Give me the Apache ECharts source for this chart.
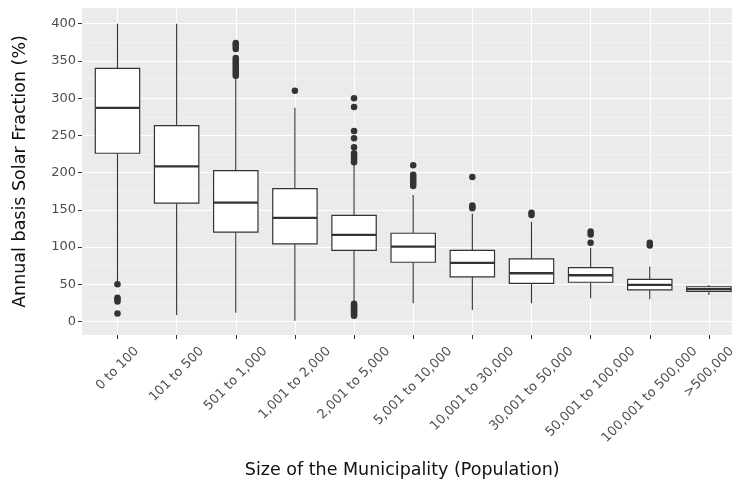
<!DOCTYPE html>
<html>
<head>
<meta charset="utf-8">
<script src="https://cdn.jsdelivr.net/npm/echarts@6/dist/echarts.min.js"></script>
<style>
html,body{margin:0;padding:0;background:#fff;}
#main{width:732px;height:481px;}
</style>
</head>
<body>
<div id="main"></div>
<script>
const categories = ['0 to 100','101 to 500','501 to 1,000','1,001 to 2,000','2,001 to 5,000','5,001 to 10,000','10,001 to 30,000','30,001 to 50,000','50,001 to 100,000','100,001 to 500,000','>500,000'];
const whiskerLow  = [51, 9, 12, 1, 26, 24.5, 15.7, 24.6, 31.3, 30, 35.8];
const q1          = [226, 159, 120, 104.3, 95.7, 79.7, 60, 51.4, 52.8, 42.5, 40.5];
const median      = [287, 208.5, 159.7, 139.2, 116.3, 100.6, 78.7, 64.9, 62.2, 49.2, 43.6];
const q3          = [340, 263.1, 202.7, 178.5, 142.7, 118.6, 95.7, 84.1, 72.5, 56.8, 46.8];
const whiskerHigh = [400, 400, 328, 287, 211, 170, 145, 134, 99.3, 73.8, 49];
const outliers = [
  [50, 32, 30, 27, 11],
  [],
  [374, 372, 369, 366, 354, 351, 348, 345, 342, 339, 336, 333, 330],
  [310],
  [300, 288, 256, 246, 234, 226, 223, 220, 217, 214, 24, 22, 20, 18, 16, 14, 12, 10, 8],
  [210, 197, 194, 191, 188, 185, 182],
  [194, 156, 154, 152],
  [146, 143],
  [121, 117, 106],
  [106, 102],
  []
];
const yMajorTicks = [0, 50, 100, 150, 200, 250, 300, 350, 400];
const yMinorTicks = [25, 75, 125, 175, 225, 275, 325, 375];

const FONT = '"DejaVu Sans", sans-serif';
const boxWidth = 0.75;
const tickFont = 13;

// build data
const boxData = categories.map((c, i) => [i, whiskerLow[i], q1[i], median[i], q3[i], whiskerHigh[i]]);
const outlierData = [];
outliers.forEach((arr, i) => arr.forEach(v => outlierData.push([i, v])));
const catIdx = categories.map((c, i) => i);

// label offsets so rotated labels are top-aligned and centered on ticks
const cv = document.createElement('canvas').getContext('2d');
cv.font = tickFont + 'px "DejaVu Sans"';
const widths = categories.map(c => cv.measureText(c).width);
const minW = Math.min.apply(null, widths);
const lh = tickFont + 2;
const rich = {};
categories.forEach((c, i) => {
  const p = (widths[i] - minW) / 2;
  rich['r' + i] = { fontSize: tickFont, lineHeight: lh, color: '#4d4d4d', fontFamily: FONT, padding: [p, p, 0, 0] };
});
const labelMargin = 344 + (minW + lh) * 0.3536 - 335;

const chart = echarts.init(document.getElementById('main'), null, { renderer: 'canvas' });
chart.setOption({
  animation: false,
  backgroundColor: '#ffffff',
  grid: {
    left: 82, top: 8, width: 662.4, height: 327,
    show: true, backgroundColor: '#EBEBEB', borderWidth: 0,
    containLabel: false, outerBoundsMode: 'none'
  },
  xAxis: {
    type: 'value', min: -0.6, max: 10.6,
    name: 'Size of the Municipality (Population)',
    nameLocation: 'middle', nameGap: 126,
    nameTextStyle: { fontSize: 17.5, color: '#111', fontFamily: FONT, padding: [0, 22, 0, 0] },
    axisLine: { show: false, onZero: false },
    axisTick: { show: true, customValues: catIdx, length: 4, lineStyle: { color: '#333', width: 1 } },
    axisLabel: {
      customValues: catIdx, rotate: 45, align: 'center', verticalAlign: 'middle',
      margin: labelMargin,
      formatter: v => '{r' + v + '|' + categories[v] + '}',
      rich: rich
    },
    splitLine: { show: true, lineStyle: { color: '#ffffff', width: 1.1 } }
  },
  yAxis: [{
    type: 'value', min: -18, max: 421,
    name: 'Annual basis Solar Fraction (%)',
    nameLocation: 'middle', nameGap: 53,
    nameTextStyle: { fontSize: 17.5, color: '#111', fontFamily: FONT },
    axisLine: { show: false, onZero: false },
    axisTick: { show: true, customValues: yMajorTicks, length: 4, lineStyle: { color: '#333', width: 1 } },
    axisLabel: { customValues: yMajorTicks, fontSize: tickFont, color: '#4d4d4d', fontFamily: FONT, margin: 6 },
    splitLine: { show: true, lineStyle: { color: '#ffffff', width: 1.1 } }
  }, {
    type: 'value', min: -18, max: 421, position: 'left', offset: 0,
    axisLine: { show: false, onZero: false },
    axisTick: { show: false, customValues: yMinorTicks },
    axisLabel: { show: false, customValues: yMinorTicks },
    splitLine: { show: true, lineStyle: { color: '#F5F5F5', width: 0.6 } }
  }],
  series: [{
    type: 'custom',
    data: boxData,
    encode: { x: 0, y: [1, 2, 3, 4, 5] },
    renderItem: function (params, api) {
      const x = api.value(0);
      const lo = api.coord([x, api.value(1)]);
      const p1 = api.coord([x, api.value(2)]);
      const pm = api.coord([x, api.value(3)]);
      const p3 = api.coord([x, api.value(4)]);
      const hi = api.coord([x, api.value(5)]);
      const w = api.size([boxWidth, 0])[0];
      const cx = lo[0];
      const ls = { stroke: '#333333', lineWidth: 1.1 };
      return {
        type: 'group',
        children: [
          { type: 'line', shape: { x1: cx, y1: hi[1], x2: cx, y2: p3[1] }, style: ls },
          { type: 'line', shape: { x1: cx, y1: p1[1], x2: cx, y2: lo[1] }, style: ls },
          { type: 'rect', shape: { x: cx - w / 2, y: p3[1], width: w, height: p1[1] - p3[1] }, style: { fill: '#ffffff', stroke: '#333333', lineWidth: 1.2 } },
          { type: 'line', shape: { x1: cx - w / 2, y1: pm[1], x2: cx + w / 2, y2: pm[1] }, style: { stroke: '#333333', lineWidth: 2.3 } }
        ]
      };
    },
    z: 2
  }, {
    type: 'scatter',
    data: outlierData,
    symbol: 'circle',
    symbolSize: 6.5,
    itemStyle: { color: '#333333', opacity: 1 },
    z: 3
  }]
});
</script>
</body>
</html>
